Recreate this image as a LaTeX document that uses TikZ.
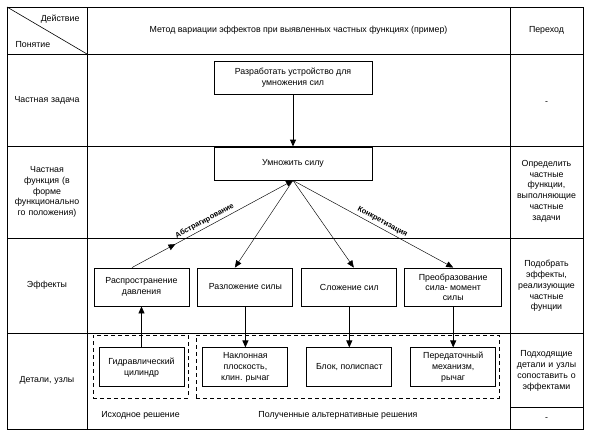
\documentclass[tikz,border=0pt]{standalone}
\usepackage{fontspec}
\setmainfont{Liberation Sans}
\usetikzlibrary{arrows.meta,positioning,calc,decorations.markings}

\begin{document}
\begin{tikzpicture}[
    x=1pt, y=-1pt,
    font=\fontsize{8.8}{10.8}\selectfont,
    node distance=41pt and 8pt,
    box/.style={rectangle, draw, line width=0.9pt, align=center, inner sep=1pt},
    effbox/.style={box, minimum width=95pt, minimum height=38pt},
    detbox/.style={box, minimum width=85pt, minimum height=39pt},
    group/.style={rectangle, draw, line width=0.9pt, dash pattern=on 4pt off 3pt, minimum height=63pt},
    arrow/.style={-{Triangle[length=7pt,width=6pt]}, line width=0.9pt},
    thin arrow/.style={-{Triangle[length=7pt,width=6pt]}, line width=0.45pt},
    mid arrow/.style={postaction={decorate}, decoration={markings,
        mark=at position 0.27 with {\arrow{Triangle[length=7pt,width=6pt]}}}},
    label/.style={font=\fontsize{7.5}{8}\selectfont\bfseries, sloped, above, inner sep=2.5pt},
    cell/.style={align=center, text width=76pt}
]
\useasboundingbox (0,0) rectangle (595,440);

% Table frame
\draw[line width=0.9pt] (7,7) rectangle (583,429);
\draw[line width=0.9pt] (87,7) -- (87,429);
\draw[line width=0.9pt] (510,7) -- (510,429);
\foreach \y in {54,146,238,333}
    \draw[line width=0.9pt] (7,\y) -- (583,\y);
\draw[line width=0.9pt] (510,407) -- (583,407);
\draw[line width=0.6pt] (7,7) -- (87,54);

% Header
\node[anchor=east] (act) at (83,19) {Действие};
\node[anchor=west] (term) at (12,45) {Понятие};
\node (title) at (298.5,30) {Метод вариации эффектов при выявленных частных функциях (пример)};
\node (trans) at (546.5,30) {Переход};

% Left column
\node[cell] (rowtask) at (47,100) {Частная задача};
\node[cell] (rowfunc) at (47,192) {Частная\\функция (в\\форме\\функционально\\го положения)};
\node[cell] (roweff) at (47,285) {Эффекты};
\node[cell] (rowdet) at (47,380) {Детали, узлы};

% Right column
\node[cell] (tr1) at (546.5,103) {-};
\node[cell] (tr2) at (546.5,191) {Определить\\частные\\функции,\\выполняющие\\частные\\задачи};
\node[cell] (tr3) at (546.5,286) {Подобрать\\эффекты,\\реализующие\\частные\\фунции};
\node[cell] (tr4) at (546.5,371) {Подходящие\\детали и узлы\\сопоставить о\\эффектами};
\node[cell] (tr5) at (546.5,419) {-};

% Task and function
\node[box, minimum width=158pt, minimum height=33pt] (task) at (293,77.5) {Разработать устройство для\\умножения сил};
\node[box, minimum width=158pt, minimum height=33pt] (func) at (293,163.5) {Умножить силу};

% Effects
\node[effbox] (eff1) at (141.5,287) {Распространение\\давления};
\node[effbox, right=of eff1] (eff2) {Разложение силы};
\node[effbox, right=of eff2] (eff3) {Сложение сил};
\node[effbox, minimum width=97pt, right=7pt of eff3, font=\fontsize{8.8}{10}\selectfont] (eff4) {Преобразование\\сила- момент\\силы};

% Details
\node[detbox, below=of eff1] (det1) {Гидравлический\\цилиндр};
\node[detbox, below=of eff2] (det2) {Наклонная\\плоскость,\\клин. рычаг};
\node[detbox, below=of eff3] (det3) {Блок, полиспаст};
\node[detbox, below=of eff4] (det4) {Передаточный\\механизм,\\рычаг};

% Solution groups
\node[group, minimum width=95pt] (orig) at (140.5,366.5) {};
\node[group, minimum width=303pt] (alt) at (347.5,366.5) {};
\node (origlab) at (140.5,415) {Исходное решение};
\node (altlab) at (338,415) {Полученные альтернативные решения};

% Arrows
\draw[arrow] (task) -- (func);
\draw[arrow] (det1) -- (eff1);
\draw[arrow] (eff2.south -| det2.north) -- (det2);
\draw[arrow] (eff3) -- (det3);
\draw[arrow] (eff4) -- (det4);

% Diagonal arrows
\draw[thin arrow, mid arrow] ([xshift=-9.5pt]eff1.north) -- (func.south)
    node[label, pos=0.47] (abstr) {Абстрагирование};
\draw[thin arrow] (func.south) -- ([xshift=-10.5pt]eff2.north);
\draw[thin arrow] (func.south) -- ([xshift=4.5pt]eff3.north);
\draw[thin arrow] (func.south) -- (eff4.north)
    node[label, pos=0.54] (concr) {Конкретизация};

\end{tikzpicture}
\end{document}
